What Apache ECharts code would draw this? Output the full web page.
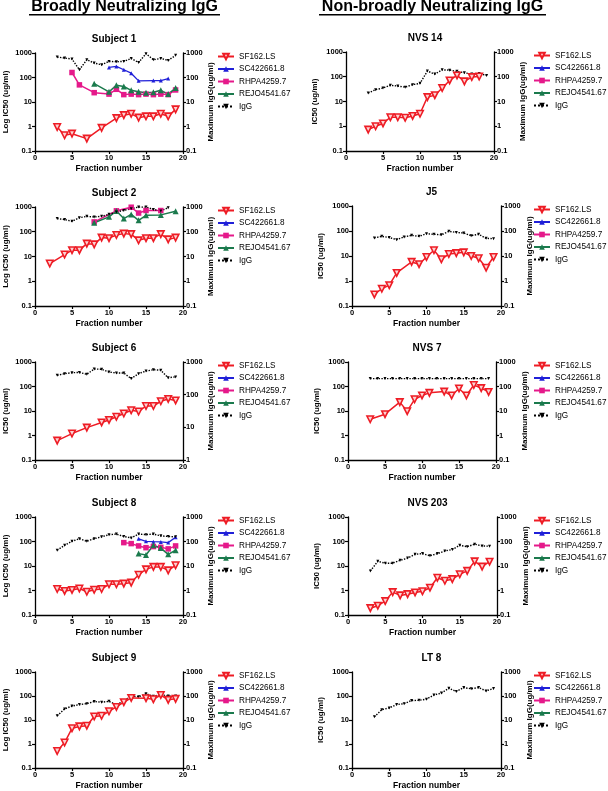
<!DOCTYPE html>
<html><head><meta charset="utf-8">
<script src="https://cdn.jsdelivr.net/npm/echarts@6/dist/echarts.min.js"></script>
<style>html,body{margin:0;padding:0;background:#fff}#c{width:608px;height:791px}</style>
</head><body><div id="c"></div>
<script>
// ---------- DATA ----------
const fractionTicks = [0, 5, 10, 15, 20];
const seriesNames = ['SF162.LS', 'SC422661.8', 'RHPA4259.7', 'REJO4541.67', 'IgG'];
const panelTitles = ['Subject 1', 'Subject 2', 'Subject 6', 'Subject 8', 'Subject 9', 'NVS 14', 'J5', 'NVS 7', 'NVS 203', 'LT 8'];
const leftAxisNames = ['Log IC50 (ug/ml)', 'Log IC50 (ug/ml)', 'IC50 (ug/ml)', 'Log IC50 (ug/ml)', 'Log IC50 (ug/ml)',
  'IC50 (ug/ml)', 'IC50 (ug/ml)', 'IC50 (ug/ml)', 'IC50 (ug/ml)', 'IC50 (ug/ml)'];
const rightAxisName = 'Maximum IgG(ug/ml)';
const headings = ['Broadly Neutralizing IgG', 'Non-broadly Neutralizing IgG'];

// Subject 1
const s1_SF162 = [[3,0.95],[4,0.44],[5,0.51],[7,0.32],[9,0.88],[11,2.2],[12,2.9],[13,3.3],[14,2.3],[15,2.6],[16,2.6],[17,3.3],[18,2.6],[19,5.0]];
const s1_SC = [[10,257],[11,283],[12,207],[13,150],[14,73],[16,75],[17,75],[18,91]];
const s1_RHPA = [[5,160],[6,50],[8,24],[10,21],[11,33],[12,20],[13,21],[14,20],[15,21],[16,20],[17,21],[18,20],[19,31]];
const s1_REJO = [[8,56],[10,26],[11,48],[12,43],[13,30],[14,26],[15,24],[16,25],[17,30],[18,21],[19,37]];
const s1_IgG = [[3,686],[4,620],[5,570],[6,207],[7,530],[8,390],[9,330],[10,455],[11,440],[12,455],[13,600],[14,410],[15,940],[16,530],[17,600],[18,500],[19,800]];
// Subject 2
const s2_SF162 = [[2,5.2],[4,12],[5,18],[6,18],[7,33],[8,31],[9,58],[10,55],[11,74],[12,84],[13,80],[14,45],[15,55],[16,55],[17,80],[18,49],[19,58]];
const s2_SC = [];
const s2_RHPA = [[8,250],[11,700],[13,980],[14,570],[15,720],[17,720]];
const s2_REJO = [[8,230],[10,400],[11,690],[12,340],[13,500],[14,290],[15,460],[17,480],[19,670]];
const s2_IgG = [[3,340],[4,310],[5,265],[6,370],[7,420],[8,395],[9,420],[10,505],[11,630],[12,730],[13,850],[14,1000],[15,1000],[16,800],[17,690],[18,940]];
// Subject 6
const s6_SF162 = [[3,0.62],[5,1.2],[7,2.1],[9,3.4],[10,4.3],[11,5.8],[12,7.9],[13,10.7],[14,9.5],[15,16],[16,16],[17,25],[18,31],[19,27]];
const s6_SC = [];
const s6_RHPA = [];
const s6_REJO = [];
const s6_IgG = [[3,390],[4,440],[5,470],[6,480],[7,420],[8,610],[9,600],[10,495],[11,460],[12,460],[13,310],[14,440],[15,530],[16,580],[17,560],[18,330],[19,350]];
// Subject 8
const s8_SF162 = [[3,1.15],[4,0.96],[5,1.05],[6,1.2],[7,0.89],[8,1.07],[9,1.15],[10,1.8],[11,1.8],[12,1.9],[13,2.1],[14,4.4],[15,7.3],[16,9.2],[17,9.2],[18,6.6],[19,10.7]];
const s8_SC = [[14,128],[15,102],[16,98],[17,96],[18,90],[19,148]];
const s8_RHPA = [[12,90],[13,82],[14,66],[15,56],[16,62],[17,58],[18,50],[19,66]];
const s8_REJO = [[14,32],[15,28],[16,70],[17,54],[18,30],[19,44]];
const s8_IgG = [[3,44],[4,70],[5,102],[6,130],[7,102],[8,130],[9,155],[10,190],[11,200],[12,160],[13,140],[14,200],[15,190],[16,200],[17,170],[18,160],[19,155]];
// Subject 9
const s9_SF162 = [[3,0.51],[4,1.15],[5,4.5],[6,5.4],[7,5.8],[8,14],[9,15],[10,23],[11,35],[12,55],[13,83],[15,81],[16,73],[17,110],[18,69],[19,76]];
const s9_SC = [];
const s9_RHPA = [];
const s9_REJO = [];
const s9_IgG = [[3,15],[4,29],[5,38],[6,44],[7,48],[8,59],[9,55],[10,60],[11,43],[12,63],[13,100],[14,92],[15,124],[16,97],[17,115],[18,100],[19,100]];
// NVS 14
const n14_SF162 = [[3,0.73],[4,1.0],[5,1.3],[6,2.3],[7,2.3],[8,2.2],[9,2.6],[10,3.2],[11,15],[12,18],[13,35],[14,71],[15,113],[16,65],[17,97],[18,102]];
const n14_IgG = [[3,22],[4,30],[5,35],[6,45],[7,42],[8,38],[9,48],[10,54],[11,170],[12,128],[13,190],[14,185],[15,165],[16,145],[17,128],[18,135],[19,113]];
// J5
const j5_SF162 = [[3,0.29],[4,0.49],[5,0.68],[6,2.1],[8,5.8],[9,4.7],[10,9.1],[11,17],[12,7.4],[13,12],[14,13],[15,14],[16,10],[17,8.1],[18,3.4],[19,9.1]];
const j5_IgG = [[3,53],[4,61],[5,55],[6,45],[7,58],[8,67],[9,61],[10,78],[11,74],[12,70],[13,97],[14,88],[15,83],[16,65],[17,74],[18,51],[19,49]];
// NVS 7
const n7_SF162 = [[3,4.6],[5,7.4],[7,23],[8,9.8],[9,30],[10,43],[11,55],[13,62],[14,43],[15,83],[16,43],[17,115],[18,86],[19,60]];
const n7_IgG = [[3,210],[4,210],[5,210],[6,210],[7,210],[8,210],[9,210],[10,210],[11,210],[12,210],[13,210],[14,210],[15,210],[16,210],[17,210],[18,210],[19,210]];
// NVS 203
const n203_SF162 = [[3,0.19],[4,0.24],[5,0.37],[6,0.86],[7,0.63],[8,0.71],[9,0.83],[10,0.93],[11,1.3],[12,3.3],[13,2.5],[14,2.9],[15,4.6],[16,6.3],[17,15.5],[18,9.4],[19,15]];
const n203_IgG = [[3,6.3],[4,15.5],[5,13],[6,13],[7,17],[8,21],[9,30],[10,32],[11,26],[12,32],[13,41],[14,47],[15,70],[16,61],[17,78],[18,66],[19,64]];
// LT 8
const lt8_SF162 = [];
const lt8_IgG = [[3,13.5],[4,27],[5,32],[6,44],[7,48],[8,65],[9,66],[10,74],[11,110],[12,132],[13,210],[14,154],[15,224],[16,200],[17,224],[18,163],[19,205]];

const panelData = [
  [s1_SF162, s1_SC, s1_RHPA, s1_REJO, s1_IgG],
  [s2_SF162, s2_SC, s2_RHPA, s2_REJO, s2_IgG],
  [s6_SF162, s6_SC, s6_RHPA, s6_REJO, s6_IgG],
  [s8_SF162, s8_SC, s8_RHPA, s8_REJO, s8_IgG],
  [s9_SF162, s9_SC, s9_RHPA, s9_REJO, s9_IgG],
  [n14_SF162, [], [], [], n14_IgG],
  [j5_SF162, [], [], [], j5_IgG],
  [n7_SF162, [], [], [], n7_IgG],
  [n203_SF162, [], [], [], n203_IgG],
  [lt8_SF162, [], [], [], lt8_IgG]
];
const rightAxisMins = [0.1, 0.1, 1, 0.1, 0.1, 0.1, 0.1, 0.1, 0.1, 0.1];

// ---------- LAYOUT / STYLE ----------
const layout = [
  {l:35, r:183, t:53, b:151}, {l:35, r:183, t:207, b:306}, {l:35, r:183, t:362, b:460},
  {l:35, r:183, t:517, b:615}, {l:35, r:183, t:672, b:770},
  {l:346, r:494, t:52, b:151}, {l:352, r:501, t:206, b:306}, {l:348, r:496, t:362, b:460},
  {l:348, r:497, t:517, b:615}, {l:352, r:501, t:672, b:770}
];
const FONT = 'Liberation Sans, Arial, sans-serif';
const seriesStyles = [
  {color:'#ee1c25', symbol:'triangle', rotate:180, size:6.5, fill:'#fbd3d3', border:'#ee1c25', bw:1.6, lw:1.5, type:'solid'},
  {color:'#2020d8', symbol:'triangle', rotate:0, size:4, fill:'#2020d8', border:'#2020d8', bw:0, lw:1.3, type:'solid'},
  {color:'#e5198a', symbol:'rect', rotate:0, size:5.5, fill:'#e5198a', border:'#e5198a', bw:0, lw:1.5, type:'solid'},
  {color:'#1b7a4d', symbol:'triangle', rotate:0, size:6, fill:'#1b7a4d', border:'#1b7a4d', bw:0, lw:1.5, type:'solid'},
  {color:'#000', symbol:'triangle', rotate:180, size:3, fill:'#000', border:'#000', bw:0, lw:1.4, type:'dotted'}
];
const logFmt = v => v < 1 ? String(+v.toFixed(1)) : String(Math.round(v));
const axisLineStyle = {show:true, lineStyle:{color:'#000', width:1.3}};
const tickStyle = {show:true, inside:false, length:3, lineStyle:{color:'#000', width:1.2}};
const labelStyle = {color:'#000', fontSize:7.5, fontWeight:'bold', fontFamily:FONT, margin:3};
const nameStyle = {color:'#000', fontSize:8, fontWeight:'bold', fontFamily:FONT};

const grid = [], xAxis = [], yAxis = [], series = [], legend = [], title = [];
layout.forEach((g, i) => {
  const rightCol = i >= 5;
  grid.push({left:g.l, top:g.t, width:g.r - g.l, height:g.b - g.t, containLabel:false});
  xAxis.push({type:'value', gridIndex:i, min:fractionTicks[0], max:fractionTicks[fractionTicks.length-1], interval:5,
    axisLine:axisLineStyle, axisTick:tickStyle, axisLabel:labelStyle, splitLine:{show:false},
    name:'Fraction number', nameLocation:'middle', nameGap:13,
    nameTextStyle:{color:'#000', fontSize:8.5, fontWeight:'bold', fontFamily:FONT}});
  yAxis.push({type:'log', logBase:10, gridIndex:i, min:0.1, max:1000, position:'left',
    axisLine:axisLineStyle, axisTick:tickStyle, axisLabel:Object.assign({formatter:logFmt}, labelStyle),
    splitLine:{show:false}, minorTick:{show:false},
    name:leftAxisNames[i], nameLocation:'middle', nameRotate:90, nameGap: rightCol ? 27 : 25, nameTextStyle:nameStyle});
  yAxis.push({type:'log', logBase:10, gridIndex:i, min:rightAxisMins[i], max:1000, position:'right',
    axisLine:axisLineStyle, axisTick:tickStyle, axisLabel:Object.assign({formatter:logFmt}, labelStyle),
    splitLine:{show:false}, minorTick:{show:false},
    name:rightAxisName, nameLocation:'middle', nameRotate:90, nameGap: rightCol ? 25 : 23, nameTextStyle:nameStyle});
  title.push({text:panelTitles[i], left:(g.l + g.r) / 2, top:g.t - 24, textAlign:'center',
    textStyle:{color:'#000', fontSize:10, fontWeight:'bold', fontFamily:FONT}});
  legend.push({orient:'vertical', left: rightCol ? 533 : 217, top:g.t - 0.5, padding:0, itemWidth:16, itemHeight:7, itemGap:4.5,
    selectedMode:false, data:seriesNames,
    textStyle:{color:'#000', fontSize:8.2, fontFamily:FONT}});
  panelData[i].forEach((d, k) => {
    const st = seriesStyles[k];
    series.push({name:seriesNames[k], type:'line', xAxisIndex:i, yAxisIndex: k === 4 ? 2*i + 1 : 2*i,
      data:d, symbol:st.symbol, symbolRotate:st.rotate, symbolSize:st.size, showSymbol:true,
      lineStyle:{color:st.color, width:st.lw, type:st.type},
      itemStyle:{color:st.fill, borderColor:st.border, borderWidth:st.bw},
      z: k === 0 ? 5 : 3, animation:false, silent:true});
  });
});

const graphic = [
  {type:'text', x:124.5, y:7, style:{text:headings[0], font:'bold 16px ' + FONT, fill:'#000', align:'center', verticalAlign:'middle'}},
  {type:'rect', shape:{x:29, y:14, width:191, height:1.5}, style:{fill:'#000'}},
  {type:'text', x:432.5, y:7, style:{text:headings[1], font:'bold 16px ' + FONT, fill:'#000', align:'center', verticalAlign:'middle'}},
  {type:'rect', shape:{x:319, y:14, width:227, height:1.5}, style:{fill:'#000'}}
];

const chart = echarts.init(document.getElementById('c'), null, {renderer:'canvas'});
chart.setOption({animation:false, backgroundColor:'#fff', title, grid, xAxis, yAxis, legend, series, graphic});
</script></body></html>
